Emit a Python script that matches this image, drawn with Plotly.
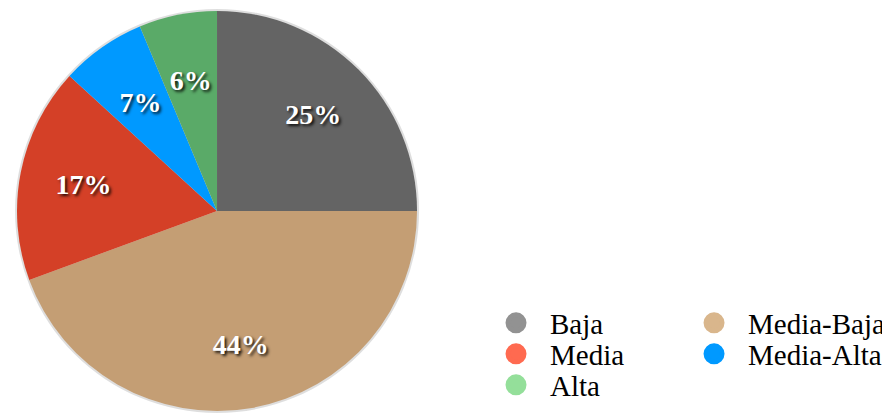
import plotly.graph_objects as go

# Datos del gráfico
categorias = ["Baja", "Media-Baja", "Media", "Media-Alta", "Alta"]
porcentajes = [25.0, 44.4, 17.4, 6.9, 6.3]

# Colores de las porciones y de la leyenda (la leyenda es más clara)
colores_pie = ["#646464", "#c49e74", "#d44027", "#0099ff", "#5aaa68"]
colores_leyenda = ["#929292", "#d9b68c", "#ff6a50", "#0099ff", "#94df9a"]

# La página tiene 8px de margen en el body, se compensa en los dominios
dominio = dict(x=[0.0101, 0.4596], y=[0.0266, 0.9928])
dominio_sombra = dict(x=[0.0079, 0.4618], y=[0.0218, 0.9976])
dominio_texto_a = dict(x=[0.0438, 0.4258], y=[0.0990, 0.9203])
dominio_texto_b = dict(x=[0.0573, 0.4124], y=[0.1280, 0.8913])

etiqueta = "%{percent:.0%}"
fuente_etiquetas = dict(family="Liberation Serif", size=28, color="white", weight="bold",
                        shadow="2px 2px 3px rgba(0,0,0,0.85)")
transparente = ["rgba(0,0,0,0)"] * len(categorias)

fig = go.Figure()

# Sombra suave alrededor del pastel
fig.add_trace(go.Pie(
    values=[sum(porcentajes)], marker=dict(colors=["rgba(0,0,0,0.13)"], line=dict(width=0)),
    textinfo="none", domain=dominio_sombra, showlegend=False, hoverinfo="skip",
))

# Pastel principal
fig.add_trace(go.Pie(
    labels=categorias, values=porcentajes, sort=False, direction="clockwise",
    marker=dict(colors=colores_pie, line=dict(width=0)),
    textinfo="none", domain=dominio, showlegend=False, hoverinfo="label+percent",
))

# Anillos transparentes solo para colocar las etiquetas a la misma distancia del centro
# (uno para las porciones grandes y otro para las pequeñas)
fig.add_trace(go.Pie(
    labels=categorias, values=porcentajes, sort=False, direction="clockwise", hole=0.6,
    marker=dict(colors=transparente, line=dict(width=0)),
    texttemplate=[etiqueta, etiqueta, etiqueta, "", ""], textposition="inside",
    insidetextorientation="horizontal", textfont=fuente_etiquetas,
    domain=dominio_texto_a, showlegend=False, hoverinfo="skip",
))
fig.add_trace(go.Pie(
    labels=categorias, values=porcentajes, sort=False, direction="clockwise", hole=0.686,
    marker=dict(colors=transparente, line=dict(width=0)),
    texttemplate=["", "", "", etiqueta, etiqueta], textposition="inside",
    insidetextorientation="horizontal", textfont=fuente_etiquetas,
    domain=dominio_texto_b, showlegend=False, hoverinfo="skip",
))

# Leyenda con círculos: una leyenda por entrada, en dos columnas
leyendas = ["legend", "legend2", "legend3", "legend4", "legend5"]
for nombre, color, ley in zip(categorias, colores_leyenda, leyendas):
    fig.add_trace(go.Scatter(
        x=[None], y=[None], mode="markers", name=nombre, legend=ley,
        marker=dict(symbol="circle", size=16, color=color, line=dict(width=5, color=color)),
    ))

estilo_leyenda = dict(orientation="h", xanchor="left", yanchor="middle", itemwidth=58,
                      font=dict(family="Liberation Serif", size=29, color="black"),
                      bgcolor="rgba(0,0,0,0)")
col1, col2 = 0.5326, 0.7551
fila1, fila2, fila3 = 0.2391, 0.1643, 0.0894

fig.update_layout(
    width=890, height=414,
    margin=dict(l=0, r=0, t=0, b=0),
    paper_bgcolor="white", plot_bgcolor="white",
    xaxis=dict(visible=False), yaxis=dict(visible=False),
    uniformtext=dict(minsize=28, mode="show"),
    legend=dict(estilo_leyenda, x=col1, y=fila1),
    legend2=dict(estilo_leyenda, x=col2, y=fila1),
    legend3=dict(estilo_leyenda, x=col1, y=fila2),
    legend4=dict(estilo_leyenda, x=col2, y=fila2),
    legend5=dict(estilo_leyenda, x=col1, y=fila3),
)

fig.write_html("out.html")
